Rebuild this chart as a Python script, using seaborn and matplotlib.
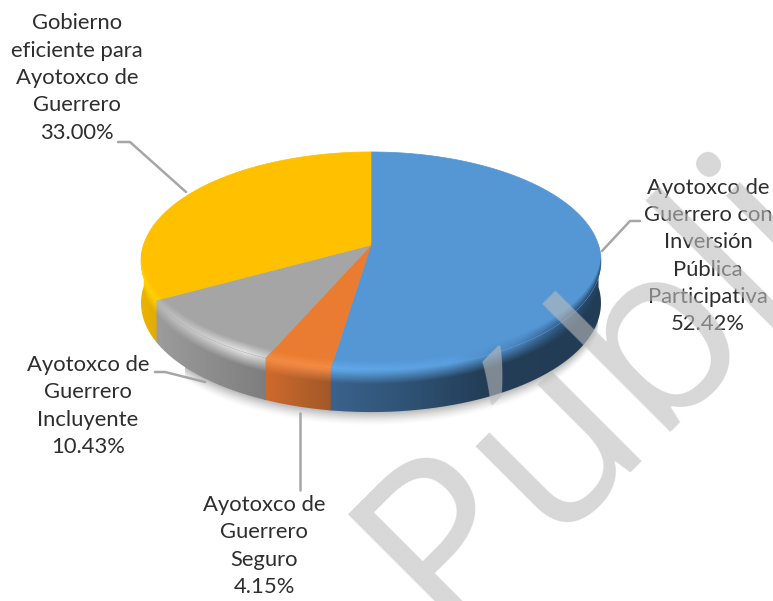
import numpy as np
import matplotlib
matplotlib.use("Agg")
import matplotlib.pyplot as plt
import seaborn as sns
from matplotlib.path import Path
from matplotlib.transforms import Transform, Affine2D

# ---- data ----
names = ["Ayotoxco de\nGuerrero con\nInversión\nPública\nParticipativa",
         "Ayotoxco de\nGuerrero\nSeguro",
         "Ayotoxco de\nGuerrero\nIncluyente",
         "Gobierno\neficiente para\nAyotoxco de\nGuerrero"]
shares = [52.42, 4.15, 10.43, 33.00]
top_colors = ["#5596D4", "#E97C30", "#A5A5A5", "#FFC000"]
watermark = "Pública"

# ---- styles ----
label_pos = [(708, 256), (264, 546), (88, 406), (77, 78)]
leaders = [([602, 630, 640], [251, 221, 221]),
           ([300, 300], [413, 490]),
           ([155, 165, 205], [372, 372, 382]),
           ([118, 130, 186], [142, 142, 192])]
DEPTH = 42
rim_knots = [
    ([332, 450, 520, 570, 600], [(98, 170, 235), (90, 160, 225), (70, 130, 185), (45, 85, 125), (35, 65, 95)]),
    ([268, 332], [(245, 140, 70), (245, 140, 70)]),
    ([160, 200, 245, 268], [(185, 185, 185), (205, 205, 205), (230, 230, 230), (210, 210, 210)]),
    ([141, 160], [(255, 215, 0), (255, 210, 0)]),
]
side_knots = [
    ([332, 420, 480, 600], [(58, 98, 140), (45, 80, 112), (36, 62, 88), (34, 60, 85)]),
    ([268, 332], [(205, 105, 45), (160, 88, 40)]),
    ([160, 268], [(155, 155, 155), (125, 125, 125)]),
    ([141, 160], [(235, 180, 0), (225, 170, 0)]),
]

sns.set_theme(style="white")
plt.rcParams["font.family"] = ["Lato", "DejaVu Sans"]

fig = plt.figure(figsize=(7.73, 6.01), dpi=100)
ax = fig.add_axes([0, 0, 1, 1])


class Perspective(Transform):
    """Tilted disc: unit circle -> image pixels."""
    input_dims = output_dims = 2
    has_inverse = False

    def __init__(self, dy=0.0):
        super().__init__()
        self.dy = dy

    def transform_non_affine(self, xy):
        xy = np.asarray(xy, float)
        s = 1 / (1 + 0.1468 * xy[:, 1])
        return np.column_stack([371 + 227.5 * xy[:, 0] * s,
                                245 - 106.7 * xy[:, 1] * s + self.dy])

    def transform_path_non_affine(self, path):
        big = Affine2D().scale(2000).transform_path(path)
        poly = big.to_polygons(closed_only=False)[0] / 2000
        return Path(self.transform_non_affine(poly))


top = Perspective(0)
wedges, _ = ax.pie(shares, colors=top_colors, startangle=90, counterclock=False,
                   radius=1, wedgeprops=dict(zorder=3))
for w in wedges:
    w.set_edgecolor(w.get_facecolor())
    w.set_linewidth(0.5)
    w.set_transform(top + ax.transData)

# texture grid
yy, xx = np.mgrid[0:601, 0:773] + 0.5
th = np.radians(np.linspace(188.4, 351.6, 800))
rim = top.transform_non_affine(np.column_stack([np.cos(th), np.sin(th)]))
rim_y = np.interp(xx, rim[:, 0], rim[:, 1])
d = yy - rim_y


def ramp(knots, x):
    xs, cols = knots
    cols = np.array(cols, float) / 255
    return np.stack([np.interp(x, xs, cols[:, i]) for i in range(3)], axis=-1)


# soft shadow below the disc
d2 = d - DEPTH
sh = np.zeros(xx.shape + (4,))
sh[..., 3] = np.where((d2 > -2) & (d2 < 14) & (xx > 185) & (xx < 598),
                      0.28 * np.clip(1 - d2 / 14, 0, 1) ** 1.5, 0)
ax.imshow(sh, extent=(0, 773, 601, 0), aspect="auto", zorder=1, interpolation="bilinear")

# extruded side and bevel of each slice
BEVEL_UP, BEVEL_DOWN = 10, 14
for i, w in enumerate(wedges):
    top_rgb = np.array(matplotlib.colors.to_rgb(top_colors[i]))
    rim_c = ramp(rim_knots[i], xx)
    side_c = ramp(side_knots[i], xx)
    t_up = np.clip((d + BEVEL_UP) / BEVEL_UP, 0, 1)[..., None]
    t_dn = np.clip(d / BEVEL_DOWN, 0, 1)[..., None]
    rgb = np.where(d[..., None] < 0, top_rgb * (1 - t_up) + rim_c * t_up,
                   rim_c * (1 - t_dn) + side_c * t_dn)
    tex = np.dstack([rgb, np.ones(xx.shape)])

    a = (w.theta1 % 360)
    b = a + (w.theta2 - w.theta1)
    lo, hi = a, b
    if lo < 180 and hi > 360:
        lo, hi = 180, 360
    elif lo >= 180:
        hi = min(hi, 360)
    else:
        lo = 180
    if hi <= lo:
        continue
    arc = np.radians(np.linspace(lo - 0.4, hi, 200))
    u = np.column_stack([np.cos(arc), np.sin(arc)])
    up = top.transform_non_affine(u)
    low = Perspective(DEPTH).transform_non_affine(u)
    poly = np.vstack([up, low[::-1], up[:1]])
    side_path = Path(poly)
    im = ax.imshow(tex, extent=(0, 773, 601, 0), aspect="auto", zorder=2)
    im.set_clip_path(side_path, ax.transData)
    tex2 = tex.copy()
    tex2[..., 3] = (d >= -BEVEL_UP).astype(float)
    im2 = ax.imshow(tex2, extent=(0, 773, 601, 0), aspect="auto", zorder=4)
    im2.set_clip_path(top.transform_path_non_affine(w.get_path()), ax.transData)

for xs, ys in leaders:
    ax.plot(xs, ys, color="#A6A6A6", lw=1.8, zorder=5, solid_joinstyle="round")

for name, val, (x, y) in zip(names, shares, label_pos):
    ax.text(x, y, f"{name}\n{val:.2f}%", ha="center", va="center", fontsize=15.8,
            color="#2E2E2E", linespacing=1.46, zorder=6)

ax.text(445, 635, watermark, rotation=45, rotation_mode="anchor", ha="left", va="baseline",
        fontsize=172, family="Open Sans", color=(0.74, 0.74, 0.74), alpha=0.6, zorder=8,
        clip_on=True)

ax.set_xlim(0, 773)
ax.set_ylim(601, 0)
ax.set_aspect("auto")
ax.axis("off")
fig.savefig("out.png", dpi=100, facecolor="white")
